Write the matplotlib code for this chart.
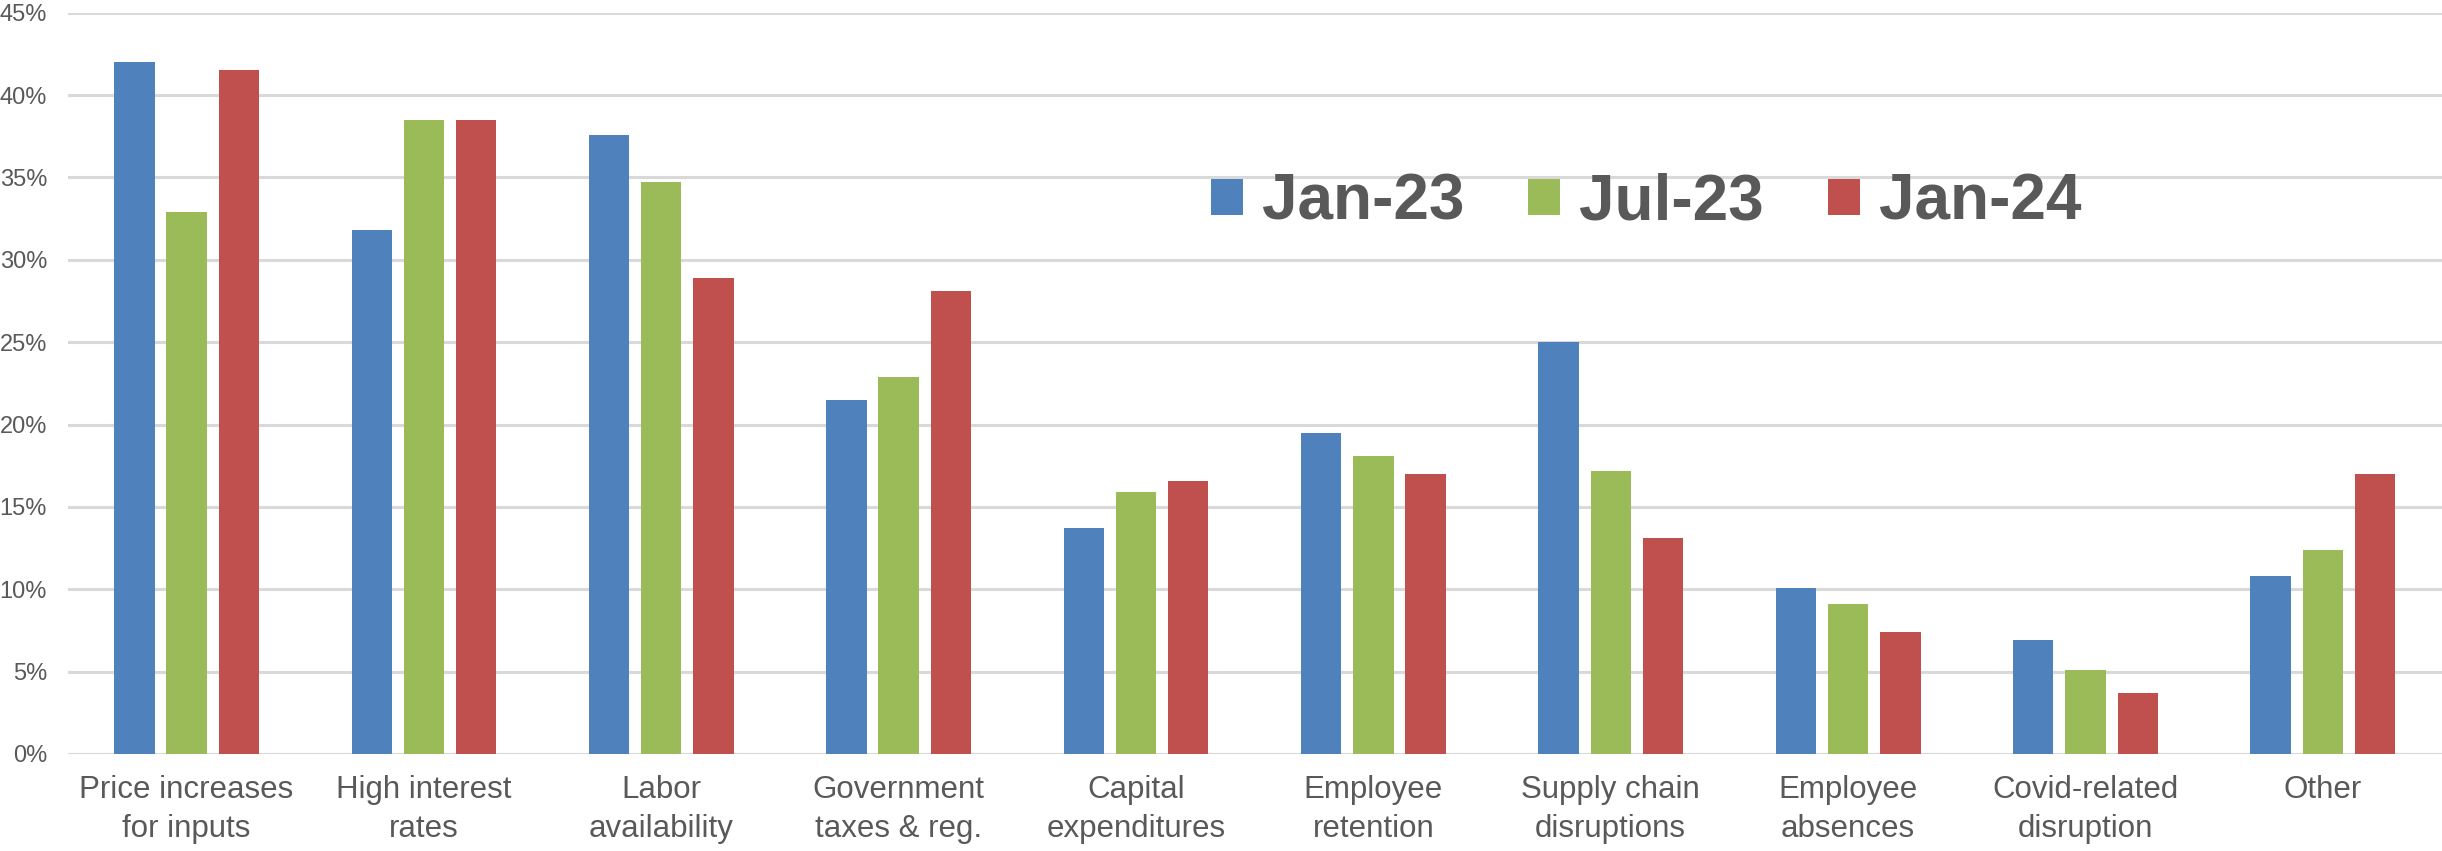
import matplotlib.pyplot as plt
import numpy as np

plt.rcParams['font.family'] = ['Liberation Sans', 'DejaVu Sans']

categories = ["Price increases\nfor inputs", "High interest\nrates", "Labor\navailability",
              "Government\ntaxes & reg.", "Capital\nexpenditures", "Employee\nretention",
              "Supply chain\ndisruptions", "Employee\nabsences", "Covid-related\ndisruption", "Other"]
jan23 = [42.0, 31.8, 37.6, 21.5, 13.7, 19.5, 25.0, 10.1, 6.9, 10.8]
jul23 = [32.9, 38.5, 34.7, 22.9, 15.9, 18.1, 17.2, 9.1, 5.1, 12.4]
jan24 = [41.5, 38.5, 28.9, 28.1, 16.6, 17.0, 13.1, 7.4, 3.7, 17.0]
series_names = ["Jan-23", "Jul-23", "Jan-24"]
colors = ["#4F81BD", "#9BBB59", "#C0504D"]
text_color = "#595959"

fig = plt.figure(figsize=(24.42, 8.51), dpi=100)
ax = fig.add_axes([0.0278, 0.114, 0.972, 0.871])

x = np.arange(len(categories))
width = 0.17
step = 0.22
for i, (vals, name, c) in enumerate(zip([jan23, jul23, jan24], series_names, colors)):
    ax.bar(x + (i - 1) * step, vals, width, color=c, label=name, zorder=3)

ax.set_xlim(-0.5, len(categories) - 0.5)
ax.set_ylim(0, 45)
ax.set_yticks(range(0, 46, 5))
ax.set_yticklabels([f"{v}%" for v in range(0, 46, 5)])
ax.set_xticks(x)
ax.set_xticklabels(categories, linespacing=1.4)

ax.grid(axis='y', color='#D9D9D9', linewidth=2.2, zorder=0)
for s in ax.spines.values():
    s.set_visible(False)
ax.tick_params(axis='both', length=0, colors=text_color)
ax.tick_params(axis='y', labelsize=17, pad=15)
ax.tick_params(axis='x', labelsize=22.5, pad=15)

leg = fig.legend(loc='center', bbox_to_anchor=(0.674, 0.762), ncol=3, frameon=False,
                 prop={'size': 46, 'weight': 'bold'}, handlelength=0.5, handleheight=0.5,
                 handletextpad=0.3, columnspacing=1.0)
for t in leg.get_texts():
    t.set_color(text_color)

fig.savefig("out.png", dpi=100)
